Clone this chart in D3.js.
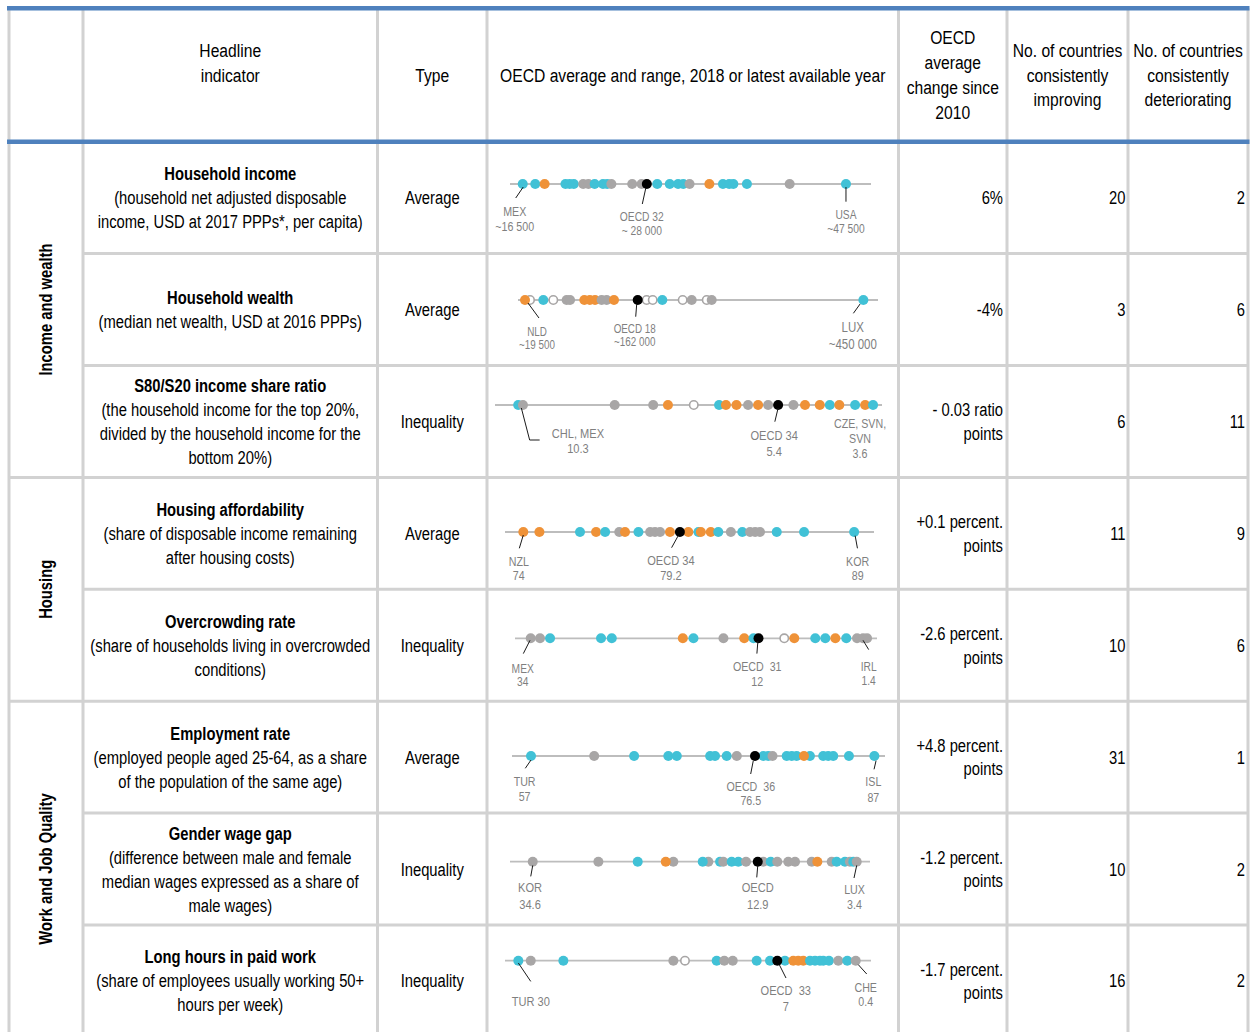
<!DOCTYPE html>
<html><head><meta charset="utf-8">
<script src="https://cdn.jsdelivr.net/npm/d3@7"></script>
<style>
body{margin:0;background:#fff;}
svg{display:block;}
</style></head><body>
<svg id="chart" width="1257" height="1032"></svg>
<script>
// ---------------- DATA ----------------
const categories = ["Income and wealth", "Housing", "Work and Job Quality"];
const categorySpans = [3, 2, 3];
const headers = [[], ["Headline", "indicator", ""], ["Type"], ["OECD average and range, 2018 or latest available year"],
  ["OECD", "average", "change since", "2010"], ["No. of countries", "consistently", "improving"],
  ["No. of countries", "consistently", "deteriorating"]];
const indicators = ["Household income", "Household wealth", "S80/S20 income share ratio", "Housing affordability",
  "Overcrowding rate", "Employment rate", "Gender wage gap", "Long hours in paid work"];
const descriptions = [
  ["(household net adjusted disposable", "income, USD at 2017 PPPs*, per capita)"],
  ["(median net wealth, USD at 2016 PPPs)"],
  ["(the household income for the top 20%,", "divided by the household income for the", "bottom 20%)"],
  ["(share of disposable income remaining", "after housing costs)"],
  ["(share of households living in overcrowded", "conditions)"],
  ["(employed people aged 25-64, as a share", "of the population of the same age)"],
  ["(difference between male and female", "median wages expressed as a share of", "male wages)"],
  ["(share of employees usually working 50+", "hours per week)"]
];
const types = ["Average", "Average", "Inequality", "Average", "Inequality", "Average", "Inequality", "Inequality"];
const changeSince2010 = [["6%"], ["-4%"], ["- 0.03 ratio", "points"], ["+0.1 percent.", "points"],
  ["-2.6 percent.", "points"], ["+4.8 percent.", "points"], ["-1.2 percent.", "points"], ["-1.7 percent.", "points"]];
const improving = [20, 3, 6, 11, 10, 31, 10, 16];
const deteriorating = [2, 6, 11, 9, 6, 1, 2, 2];
// value at the left and right end of each strip's line
const axisRanges = [[15.28, 49.9], [10.6, 468.6], [10.77, 3.43], [73.17, 89.9], [35.45, 0.44], [55.34, 87.93], [36.79, 2.12], [31.17, -0.94]];

// status: I = improving, D = deteriorating, N = no clear trend, X = insufficient data, O = OECD average
const householdIncome = [[16.5,"I"],[17.7,"I"],[18.6,"D"],[20.6,"I"],[21.0,"I"],[21.4,"I"],[22.3,"N"],[22.8,"N"],[23.4,"I"],[24.2,"I"],[24.6,"I"],[25.0,"N"],[27.0,"N"],[27.9,"N"],[29.4,"I"],[30.6,"I"],[31.4,"I"],[31.9,"I"],[32.5,"N"],[34.4,"D"],[35.7,"I"],[36.3,"I"],[36.7,"I"],[38.0,"I"],[42.1,"N"],[47.5,"I"],[28.4,"O"]];
const householdWealth = [[25.9,"X"],[19.5,"D"],[42.8,"I"],[55.5,"X"],[72.5,"N"],[76.8,"N"],[95,"D"],[102,"D"],[108.6,"D"],[117,"N"],[123.4,"N"],[132.7,"D"],[174.3,"X"],[182,"X"],[194.2,"I"],[220.1,"X"],[231.6,"N"],[250.7,"X"],[257,"N"],[450,"I"],[162.9,"O"]];
const s80s20 = [[10.33,"I"],[10.24,"N"],[8.5,"N"],[7.77,"N"],[7.49,"D"],[7.0,"X"],[6.52,"I"],[6.39,"D"],[6.19,"D"],[5.97,"N"],[5.78,"D"],[5.59,"N"],[5.11,"N"],[4.89,"D"],[4.61,"D"],[4.42,"I"],[4.24,"D"],[3.94,"I"],[3.75,"D"],[3.6,"I"],[5.4,"O"]];
const housingAfford = [[74.0,"D"],[74.73,"D"],[76.57,"I"],[77.3,"D"],[77.71,"I"],[78.35,"N"],[78.61,"D"],[79.22,"I"],[79.75,"N"],[79.97,"N"],[80.2,"N"],[80.65,"D"],[81.48,"D"],[81.94,"I"],[82.05,"D"],[82.5,"D"],[82.84,"I"],[83.41,"N"],[83.93,"I"],[84.28,"N"],[84.51,"N"],[84.73,"N"],[85.49,"I"],[86.73,"I"],[89.0,"I"],[81.1,"O"]];
const overcrowding = [[33.93,"N"],[33.03,"N"],[32.06,"I"],[27.13,"I"],[26.09,"I"],[19.22,"D"],[18.19,"I"],[15.29,"N"],[13.28,"D"],[12.38,"I"],[9.41,"X"],[8.44,"D"],[6.41,"I"],[5.44,"I"],[4.47,"D"],[3.41,"I"],[2.37,"N"],[1.79,"N"],[1.4,"N"],[11.9,"O"]];
const employment = [[57,"I"],[62.52,"N"],[66.01,"I"],[69.0,"I"],[69.74,"I"],[72.65,"I"],[73.08,"I"],[74.1,"I"],[74.98,"N"],[77.3,"I"],[77.73,"I"],[78.1,"N"],[79.34,"I"],[79.78,"I"],[80.21,"I"],[81.37,"I"],[80.85,"D"],[82.53,"I"],[82.97,"I"],[83.41,"I"],[84.78,"I"],[87,"I"],[76.57,"O"]];
const genderGap = [[34.6,"N"],[28.28,"N"],[24.49,"I"],[21.06,"N"],[21.79,"D"],[17.69,"N"],[18.23,"I"],[16.56,"I"],[16.25,"N"],[15.44,"I"],[14.8,"I"],[14.06,"N"],[12.4,"N"],[11.68,"I"],[11.05,"N"],[9.99,"N"],[9.34,"N"],[7.73,"N"],[7.19,"D"],[5.81,"N"],[5.33,"I"],[4.53,"I"],[4.05,"N"],[3.73,"I"],[3.4,"N"],[12.93,"O"]];
const longHours = [[30,"I"],[28.91,"N"],[26.05,"I"],[16.4,"N"],[15.38,"X"],[12.6,"I"],[11.93,"N"],[11.19,"N"],[9.09,"I"],[7.92,"I"],[6.61,"I"],[5.88,"D"],[5.44,"D"],[5.0,"D"],[4.41,"I"],[3.97,"I"],[3.54,"I"],[3.25,"I"],[2.75,"I"],[1.93,"N"],[1.14,"I"],[0.4,"N"],[7.28,"O"]];
const series = [householdIncome, householdWealth, s80s20, housingAfford, overcrowding, employment, genderGap, longHours];

const annotations = [
  [{v:16.5, t:["MEX","~16 500"]}, {v:28.4, t:["OECD 32","~ 28 000"]}, {v:47.5, t:["USA","~47 500"]}],
  [{v:19.5, t:["NLD","~19 500"]}, {v:162.9, t:["OECD 18","~162 000"]}, {v:450, t:["LUX","~450 000"]}],
  [{v:10.24, t:["CHL, MEX","10.3"]}, {v:5.4, t:["OECD 34","5.4"]}, {v:3.6, t:["CZE, SVN,","SVN","3.6"]}],
  [{v:74, t:["NZL","74"]}, {v:81.1, t:["OECD 34","79.2"]}, {v:89, t:["KOR","89"]}],
  [{v:33.93, t:["MEX","34"]}, {v:11.9, t:["OECD  31","12"]}, {v:1.4, t:["IRL","1.4"]}],
  [{v:57, t:["TUR","57"]}, {v:76.57, t:["OECD  36","76.5"]}, {v:87, t:["ISL","87"]}],
  [{v:34.6, t:["KOR","34.6"]}, {v:12.93, t:["OECD","12.9"]}, {v:3.4, t:["LUX","3.4"]}],
  [{v:30, t:["TUR 30"]}, {v:7.28, t:["OECD  33","7"]}, {v:0.4, t:["CHE","0.4"]}]
];

// ---------------- LAYOUT ----------------
const colX = [9, 83, 377.5, 487, 898.5, 1007, 1128, 1248];
const topY = 8.3, headBottom = 141.7, rowH = 111.9;
const lineYOff = [42.3, 46.4, 39.5, 54.6, 49, 54.8, 48.6, 35.7];
const stripRanges = [[510, 871], [518, 878], [495, 882], [505, 874], [515, 877], [512, 885], [510, 870], [505, 871]];
const annoLayout = [
  [{dx:-8, dy:32, gap:15, size:13, path:[[0.5,3],[-7,14]]},
   {dx:-5, dy:37, gap:13.5, size:12.5, path:[[-1,4],[-4.5,20]]},
   {dx:0, dy:34.5, gap:14, size:12.5, path:[[0,3],[0,17.7]]}],
  [{dx:12, dy:36, gap:13, size:12, path:[[3,3],[14,18]]},
   {dx:-3, dy:32.5, gap:13.5, size:12, path:[[-1,4],[-2,16.7]]},
   {dx:-10.6, dy:32, gap:16.5, size:14, path:[[-3.3,4],[-10,13.3]]}],
  [{dx:55, dy:33, gap:15, size:13.5, path:[[-1.6,3],[6.7,35],[16.7,35]]},
   {dx:-4, dy:35, gap:16, size:13.5, path:[[0,3],[-3.3,16.7]]},
   {dx:-13, dy:23, gap:15, size:13, path:null}],
  [{dx:-4.5, dy:34, gap:14, size:13, path:[[0,3],[-4,16.3]]},
   {dx:-9, dy:32.5, gap:15.5, size:13.5, path:[[-1.7,3.7],[-8.3,15.7]]},
   {dx:3.5, dy:34, gap:14, size:13, path:[[1,3.7],[3.3,16.3]]}],
  [{dx:-8, dy:34.5, gap:13.5, size:12.5, path:[[-0.7,2],[-7.4,15.3]]},
   {dx:-1.3, dy:33, gap:15, size:13, path:[[-0.6,2.7],[-1.6,15.3]]},
   {dx:1.6, dy:33, gap:14, size:12.5, path:[[-4,2],[1.6,11.3]]}],
  [{dx:-6.4, dy:30, gap:15, size:13, path:[[0,4],[-5.7,12.3]]},
   {dx:-4.2, dy:35, gap:14, size:13, path:[[-1.7,4.7],[-4.3,18]]},
   {dx:-1, dy:30, gap:15.5, size:13, path:[[1.7,4.7],[-0.3,13.3]]}],
  [{dx:-2.7, dy:30.5, gap:16.5, size:13.5, path:[[0,3.7],[-2,14.7]]},
   {dx:0, dy:30.5, gap:16.5, size:13.5, path:[[0,3.7],[-1,15.7]]},
   {dx:-2.2, dy:32, gap:15, size:13, path:[[0,3.7],[-2.7,16.3]]}],
  [{dx:12.5, dy:45.5, gap:0, size:13.5, path:[[0,2.3],[12.4,20.7]]},
   {dx:8.5, dy:34, gap:16, size:13.5, path:[[2,4],[8.7,17.3]]},
   {dx:10, dy:31, gap:14.5, size:13, path:[[2.6,4],[11,13.3]]}]
];
const statusFill = {I:"#41C1D6", D:"#EF9238", N:"#A8A6A6", X:"#FFFFFF", O:"#000000"};
const statusStroke = {I:"none", D:"none", N:"none", X:"#A8A6A6", O:"none"};
const BLUE = "#4F81BD", GRID = "#D2D2D2";
const MAIN = 18, HEAD_STRETCH = 1.06;

// font detection
function hasFont(name) {
  const c = document.createElement("canvas").getContext("2d");
  c.font = "40px monospace"; const a = c.measureText("Household wealth OECD 123").width;
  c.font = "40px '" + name + "', monospace"; const b = c.measureText("Household wealth OECD 123").width;
  return Math.abs(a - b) > 0.5;
}
const narrowOK = hasFont("Liberation Sans Narrow") || hasFont("Arial Narrow");
const FONT = narrowOK ? "'Liberation Sans Narrow','Arial Narrow',sans-serif" : "'Liberation Sans',Arial,sans-serif";
const SQUEEZE = narrowOK ? 1 : 0.82;

const svg = d3.select("#chart");
svg.append("rect").attr("width", 1257).attr("height", 1032).attr("fill", "#fff");
const texts = [];
function txt(g, x, y, s, o = {}) {
  const t = g.append("text").attr("x", x).attr("y", y).text(s)
    .attr("font-family", FONT).attr("font-size", o.size || MAIN)
    .attr("font-weight", o.bold ? "bold" : "normal")
    .attr("text-anchor", o.anchor || "middle")
    .attr("fill", o.fill || "#000")
    .style("white-space", "pre");
  if (o.rotate) t.attr("transform", `rotate(-90,${x},${y})`);
  texts.push({t, f: SQUEEZE * (o.stretch || 1)});
  return t;
}
const rowTop = i => headBottom + i * rowH;
const nRows = indicators.length;

// grid lines
const grid = svg.append("g");
colX.forEach(x => grid.append("line").attr("x1", x).attr("x2", x).attr("y1", topY).attr("y2", 1032)
  .attr("stroke", GRID).attr("stroke-width", 3));
let catStart = [0]; categorySpans.forEach((s, i) => catStart.push(catStart[i] + s));
for (let i = 1; i < nRows; i++) {
  const isSection = catStart.includes(i);
  grid.append("line").attr("x1", isSection ? colX[0] : colX[1]).attr("x2", colX[7])
    .attr("y1", rowTop(i)).attr("y2", rowTop(i)).attr("stroke", GRID).attr("stroke-width", 3);
}
[topY, headBottom].forEach(y => grid.append("line").attr("x1", 7).attr("x2", 1249.5)
  .attr("y1", y).attr("y2", y).attr("stroke", BLUE).attr("stroke-width", 4.5));

// header
const hg = svg.append("g");
headers.forEach((lines, c) => {
  if (!lines.length) return;
  const cx = (colX[c] + colX[c + 1]) / 2, cy = (topY + headBottom) / 2;
  lines.forEach((s, k) => { if (s) txt(hg, cx, cy + (k - (lines.length - 1) / 2) * 24.7 + 6.5, s, {stretch: HEAD_STRETCH}); });
});

// categories
categories.forEach((c, i) => {
  const y0 = rowTop(catStart[i]), y1 = rowTop(catStart[i] + categorySpans[i]);
  txt(svg, (colX[0] + colX[1]) / 2 + 6.5, (y0 + y1) / 2, c, {bold: true, size: 18, rotate: true});
});

// rows
const body = svg.append("g");
indicators.forEach((name, i) => {
  const cy = rowTop(i) + rowH / 2;
  const lines = [name, ...descriptions[i]];
  lines.forEach((s, k) => txt(body, (colX[1] + colX[2]) / 2, cy + (k - (lines.length - 1) / 2) * 24 + 6.5, s, {bold: k === 0}));
  txt(body, (colX[2] + colX[3]) / 2, cy + 6.5, types[i]);
  const ch = changeSince2010[i];
  ch.forEach((s, k) => txt(body, colX[5] - 4, cy + (k - (ch.length - 1) / 2) * 23.5 + 6.5, s, {anchor: "end"}));
  txt(body, colX[6] - 2.5, cy + 6.5, improving[i], {anchor: "end"});
  txt(body, colX[7] - 3, cy + 6.5, deteriorating[i], {anchor: "end"});

  // strip
  const ly = rowTop(i) + lineYOff[i];
  const x = d3.scaleLinear().domain(axisRanges[i]).range(stripRanges[i]);
  const sg = body.append("g");
  sg.append("line").attr("x1", x(axisRanges[i][0])).attr("x2", x(axisRanges[i][1]))
    .attr("y1", ly).attr("y2", ly).attr("stroke", "#BDBDBD").attr("stroke-width", 1.8);
  sg.selectAll("circle").data(series[i]).join("circle")
    .attr("cx", d => x(d[0])).attr("cy", ly)
    .attr("r", d => d[1] === "X" ? 4.2 : 5)
    .attr("fill", d => statusFill[d[1]])
    .attr("stroke", d => statusStroke[d[1]])
    .attr("stroke-width", 1.6);
  annotations[i].forEach((a, j) => {
    const L = annoLayout[i][j];
    const px = x(a.v);
    if (L.path) {
      sg.append("path").attr("d", d3.line()(L.path.map(p => [px + p[0], ly + p[1]])))
        .attr("fill", "none").attr("stroke", "#1a1a1a").attr("stroke-width", 1);
    }
    a.t.forEach((s, k) => txt(sg, px + L.dx, ly + L.dy + k * L.gap, s, {size: L.size, fill: "#7F7F7F"}));
  });
});

texts.forEach(({t, f}) => {
  if (Math.abs(f - 1) < 1e-6) return;
  const w = t.node().getComputedTextLength();
  if (w > 0) t.attr("textLength", w * f).attr("lengthAdjust", "spacingAndGlyphs");
});
</script>
</body></html>
